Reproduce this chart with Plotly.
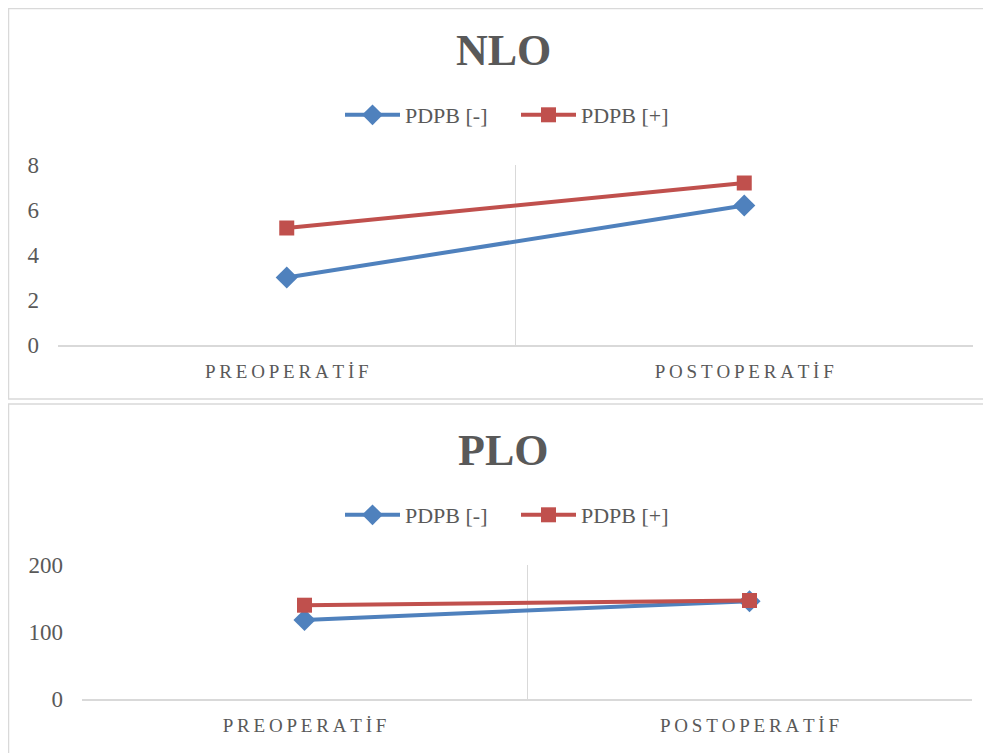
import plotly.graph_objects as go

# page has an 8px body margin; map reference pixel coords onto the figure
OFF = 8
W, H = 991 - OFF, 753 - OFF

categories = ["PREOPERATİF", "POSTOPERATİF"]
series_names = ["PDPB [-]", "PDPB [+]"]
nlo_minus = [3.0, 6.2]
nlo_plus = [5.2, 7.2]
plo_minus = [118, 146]
plo_plus = [140, 147]
nlo_ticks = [0, 2, 4, 6, 8]
plo_ticks = [0, 100, 200]

BLUE = "#4F81BD"
RED = "#C0504D"
GRAY = "#595959"
LINE = "#D9D9D9"
FONT = "Liberation Serif"

def spaced(s):
    return "\u2009".join(list(s))

def px(x):
    return max(x - OFF, 0.5) / W

def py(y):
    return 1 - max(y - OFF, 0.5) / H

fig = go.Figure()

for vals, name, color, sym, leg, xa, ya in [
    (nlo_minus, series_names[0], BLUE, "diamond", "legend", "x", "y"),
    (nlo_plus, series_names[1], RED, "square", "legend", "x", "y"),
    (plo_minus, series_names[0], BLUE, "diamond", "legend2", "x2", "y2"),
    (plo_plus, series_names[1], RED, "square", "legend2", "x2", "y2"),
]:
    fig.add_trace(go.Scatter(
        x=categories, y=vals, name=name, mode="lines+markers",
        line=dict(color=color, width=4),
        marker=dict(symbol=sym, size=17 if sym == "diamond" else 15, color=color),
        legend=leg, xaxis=xa, yaxis=ya,
    ))

xcommon = dict(
    type="category", tickson="boundaries", showgrid=True, gridcolor=LINE, gridwidth=1,
    showline=True, linecolor=LINE, linewidth=2, ticks="", zeroline=False,
    range=[-0.5, 1.5], automargin=False,
    tickvals=categories, ticktext=[spaced(c) for c in categories],
    tickfont=dict(family=FONT, size=19, color=GRAY), ticklabelstandoff=8, fixedrange=True,
)
ycommon = dict(
    showgrid=False, zeroline=False, showline=False, ticks="", automargin=False,
    tickfont=dict(family=FONT, size=23, color=GRAY), ticklabelstandoff=18, fixedrange=True,
)

legcommon = dict(orientation="h", xanchor="center", yanchor="middle", itemwidth=55,
                 entrywidth=106, entrywidthmode="pixels",
                 font=dict(family=FONT, size=22, color=GRAY), bgcolor="rgba(0,0,0,0)")

fig.update_layout(
    width=W, height=H, margin=dict(l=0, r=0, t=0, b=0, autoexpand=False),
    paper_bgcolor="white", plot_bgcolor="white",
    xaxis=dict(domain=[px(58), px(973)], anchor="y", **xcommon),
    yaxis=dict(domain=[py(345), py(165)], anchor="x", range=[0, 8], tickvals=nlo_ticks, **ycommon),
    xaxis2=dict(domain=[px(82), px(972)], anchor="y2", **xcommon),
    yaxis2=dict(domain=[py(699), py(565)], anchor="x2", range=[0, 200], tickvals=plo_ticks, **ycommon),
    legend=dict(x=px(516), y=py(115), **legcommon),
    legend2=dict(x=px(516), y=py(515), **legcommon),
    showlegend=True,
    shapes=[
        dict(type="rect", xref="paper", yref="paper", x0=px(7), x1=px(1000), y0=py(399), y1=py(4.5),
             line=dict(color=LINE, width=1.5), layer="below"),
        dict(type="rect", xref="paper", yref="paper", x0=px(7), x1=px(1000), y0=-0.05, y1=py(404),
             line=dict(color=LINE, width=1.5), layer="below"),
    ],
    annotations=[
        dict(text="<b>NLO</b>", x=px(503), y=py(51), xref="paper", yref="paper", showarrow=False,
             xanchor="center", yanchor="middle", font=dict(family=FONT, size=44, color=GRAY)),
        dict(text="<b>PLO</b>", x=px(503), y=py(450), xref="paper", yref="paper", showarrow=False,
             xanchor="center", yanchor="middle", font=dict(family=FONT, size=44, color=GRAY)),
    ],
)

fig.write_html("out.html")
